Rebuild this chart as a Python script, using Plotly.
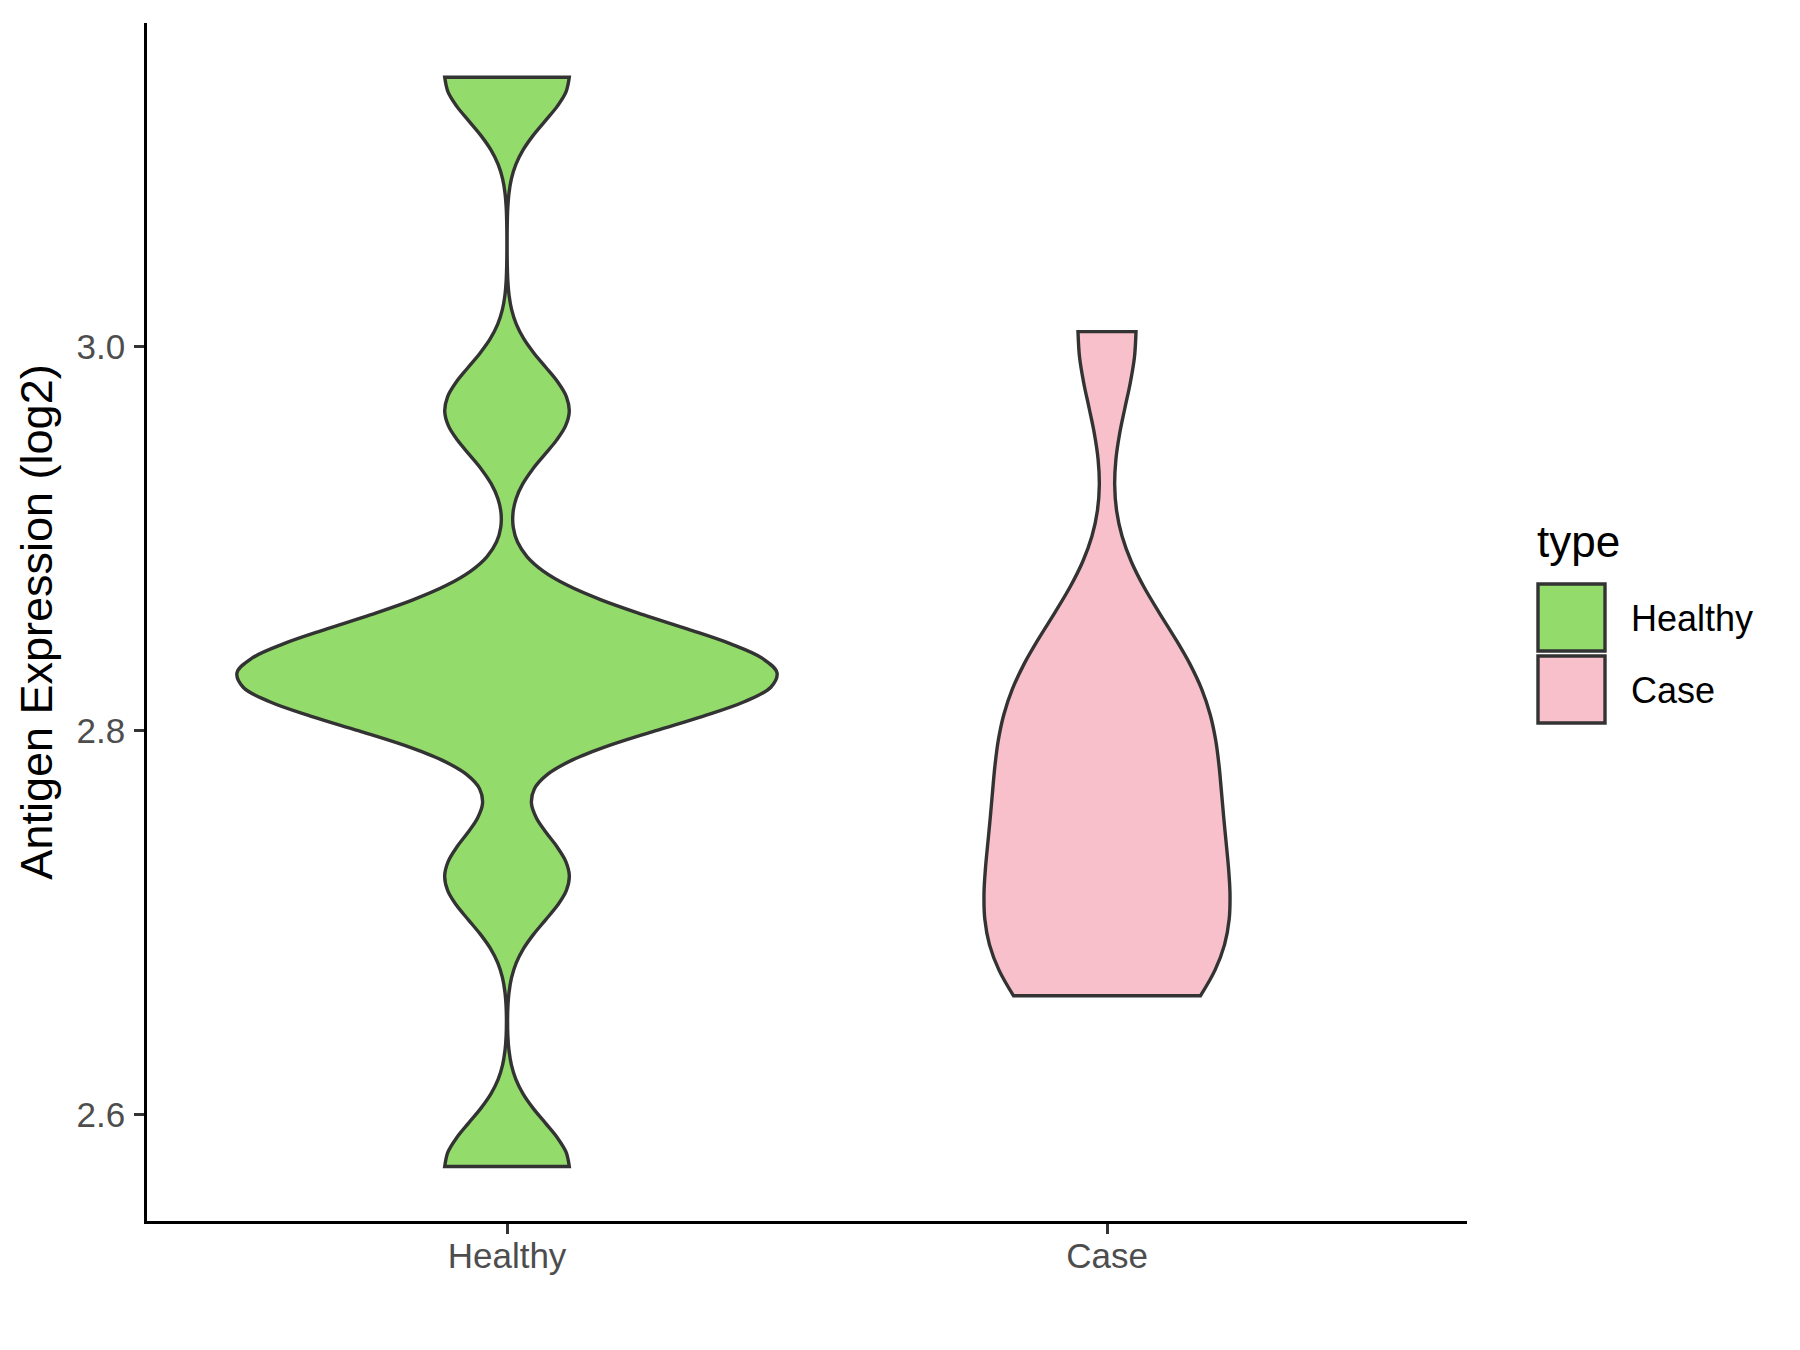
import plotly.graph_objects as go

# ---------------- data ----------------
categories = ["Healthy", "Case"]
healthy_values = [2.573, 2.724, 2.814, 2.822, 2.826, 2.836, 2.851, 2.967, 3.1405]
case_values = [2.662, 2.672, 2.695, 2.718, 2.742, 2.768, 2.795, 2.820, 2.842, 3.008]
y_tick_values = [2.6, 2.8, 3.0]
y_tick_labels = ["2.6", "2.8", "3.0"]
legend_title = "type"
y_title = "Antigen Expression (log2)"

# ---------------- style ----------------
W, H = 1800, 1350
M_L, M_R, M_T, M_B = 147, 333, 23, 129
FONT = "Liberation Sans, Arial, sans-serif"
colors = {"Healthy": "#93DB6A", "Case": "#F7C0CB"}
outline = "#333333"
bandwidths = {"Healthy": 0.023, "Case": 0.040}
widths = {"Healthy": 0.9, "Case": 0.41}

series = {"Healthy": healthy_values, "Case": case_values}

fig = go.Figure()
for cat in categories:
    vals = series[cat]
    fig.add_trace(go.Violin(
        x=[cat] * len(vals),
        y=vals,
        name=cat,
        fillcolor=colors[cat],
        line=dict(color=outline, width=3.4),
        opacity=1,
        points=False,
        spanmode="hard",
        scalemode="width",
        width=widths[cat],
        bandwidth=bandwidths[cat],
        showlegend=False,
        hoveron="violins",
    ))


def px_to_paper(px, py):
    return ((px - M_L) / (W - M_L - M_R), (H - M_B - py) / (H - M_T - M_B))


shapes = []
annotations = []
# legend title
tx, ty = px_to_paper(1535, 541)
annotations.append(dict(text=legend_title, x=tx, y=ty, xref="paper", yref="paper",
                        xanchor="left", yanchor="middle", showarrow=False,
                        font=dict(family=FONT, size=44, color="black")))
key_tops = [584, 656]
for cat, top in zip(categories, key_tops):
    x0, y0 = px_to_paper(1538, top + 67)
    x1, y1 = px_to_paper(1605, top)
    shapes.append(dict(type="rect", xref="paper", yref="paper", x0=x0, y0=y0, x1=x1, y1=y1,
                       fillcolor=colors[cat], line=dict(color=outline, width=3.4)))
    lx, ly = px_to_paper(1629, top + 34)
    annotations.append(dict(text=cat, x=lx, y=ly, xref="paper", yref="paper",
                            xanchor="left", yanchor="middle", showarrow=False,
                            font=dict(family=FONT, size=36, color="black")))

fig.update_layout(
    width=W, height=H,
    margin=dict(l=M_L, r=M_R, t=M_T, b=M_B, autoexpand=False),
    paper_bgcolor="white", plot_bgcolor="white",
    violinmode="overlay",
    showlegend=False,
    font=dict(family=FONT),
    shapes=shapes,
    annotations=annotations,
)
fig.update_xaxes(
    type="category", categoryorder="array", categoryarray=categories,
    range=[-0.6, 1.6], showgrid=False, zeroline=False,
    showline=True, linecolor="black", linewidth=2.6,
    ticks="outside", ticklen=10, tickwidth=2.6, tickcolor=outline,
    tickfont=dict(family=FONT, size=35, color="#4D4D4D"),
    ticklabelstandoff=-8,
)
fig.update_yaxes(
    range=[2.5446, 3.1688], showgrid=False, zeroline=False,
    showline=True, linecolor="black", linewidth=2.6,
    tickmode="array", tickvals=y_tick_values, ticktext=y_tick_labels,
    ticks="outside", ticklen=10, tickwidth=2.6, tickcolor=outline,
    tickfont=dict(family=FONT, size=35, color="#4D4D4D"),
    ticklabelstandoff=2,
    title=dict(text=y_title, font=dict(family=FONT, size=45, color="black"), standoff=10),
)

fig.write_html("out.html", config={"displayModeBar": False},
               post_script="document.body.style.margin='0';document.body.style.overflow='hidden';")
